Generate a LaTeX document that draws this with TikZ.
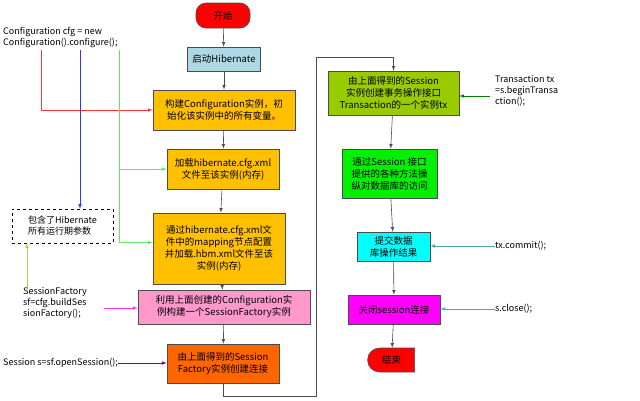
\documentclass[tikz,border=0pt]{standalone}
\usepackage{fontspec}
\usetikzlibrary{shapes.misc}
\setmainfont{Noto Sans CJK SC}
\definecolor{lightblue}{RGB}{173,216,230}
\definecolor{gold}{RGB}{255,192,0}
\definecolor{pinkc}{RGB}{255,153,204}
\definecolor{orangec}{RGB}{255,102,0}
\definecolor{olivec}{RGB}{153,204,0}
\definecolor{limec}{RGB}{0,240,0}
\definecolor{ygreen}{RGB}{170,210,80}
\definecolor{cyanc}{RGB}{0,255,255}
\definecolor{magc}{RGB}{255,0,255}
\definecolor{redc}{RGB}{255,0,0}
\definecolor{greenl}{RGB}{100,230,100}
\begin{document}
\begin{tikzpicture}[x=1pt,y=-1pt,
 box/.style={draw=black!70,line width=0.6pt,align=center,inner sep=1pt,font=\fontsize{9.5}{12}\selectfont},
 lbl/.style={align=left,inner sep=0pt,anchor=north west,font=\fontsize{9}{11}\selectfont},
 ar/.style={->,>=latex,line width=0.6pt},
 fl/.style={ar,black!70}]
\useasboundingbox[fill=white] (0,0) rectangle (640,400);
\node[box,fill=redc,rounded corners=10pt,minimum width=54pt,minimum height=25pt] (start) at (223,15.5) {开始};
\node[box,fill=lightblue,minimum width=73pt,minimum height=24pt] (b1) at (224,59) {启动Hibernate};
\node[box,fill=gold,minimum width=142pt,minimum height=40pt] (b2) at (224,110) {构建Configuration实例，初\\始化该实例中的所有变量。};
\node[box,fill=gold,minimum width=112pt,minimum height=40pt] (b3) at (223,169) {加载hibernate.cfg.xml\\文件至该实例(内存)};
\node[box,fill=gold,minimum width=132pt,minimum height=71pt] (b4) at (219,248.5) {通过hibernate.cfg.xml文\\件中的mapping节点配置\\并加载.hbm.xml文件至该\\实例(内存)};
\node[box,fill=pinkc,minimum width=172pt,minimum height=34pt] (b5) at (224,307) {利用上面创建的Configuration实\\例构建一个SessionFactory实例};
\node[box,fill=orangec,minimum width=112pt,minimum height=39pt] (b6) at (223,363.5) {由上面得到的Session\\Factory实例创建连接};
\node[box,fill=olivec,minimum width=131pt,minimum height=44pt] (r1) at (393.5,93) {由上面得到的Session\\实例创建事务操作接口\\Transaction的一个实例tx};
\node[box,fill=limec,minimum width=95pt,minimum height=49pt] (r2) at (389.5,173.5) {通过Session 接口\\提供的各种方法操\\纵对数据库的访问};
\node[box,fill=cyanc,minimum width=73pt,minimum height=29pt] (r3) at (393.5,246.5) {提交数据\\库操作结果};
\node[box,fill=magc,minimum width=92pt,minimum height=29pt] (r4) at (394,309.5) {关闭session连接};
\node[box,fill=redc,rounded rectangle,rounded rectangle right arc=none,minimum width=49pt,minimum height=24pt] (end) at (391.5,360) {结束};
\draw[fl] (start) -- (b1);
\draw[fl] (b1) -- (b2);
\draw[fl] (b2) -- (b3);
\draw[fl] (b3) -- (b4);
\draw[fl] (b4) -- (b5);
\draw[fl] (b5) -- (b6);
\draw[fl] (b6.south) -- (223,396) -- (316,396) -- (316,57) -- (393.5,57) -- (r1.north);
\draw[fl] (r1) -- (r2);
\draw[fl] (r2) -- (r3);
\draw[fl] (r3) -- (r4);
\draw[fl] (r4) -- (end);
% left
\node[lbl] (t1) at (3,27) {Configuration cfg = new\\Configuration().configure();};
\node[draw,dashed,align=left,inner sep=2pt,minimum width=101pt,minimum height=34pt,font=\fontsize{9}{11}\selectfont] (dash) at (62.5,226) {包含了Hibernate\\所有运行期参数};
\coordinate (rc) at (41,50);
\coordinate (bc) at (80,50);
\coordinate (gc) at (119,50);
\draw[ar,red!80] (rc) -- (41,110) -- (b2.west);
\draw[ar,blue!80] (bc) -- (dash.north -| bc);
\draw[greenl] (gc) -- (119,242.5);
\draw[ar,greenl] (119,169) -- (b3.west);
\draw[ar,greenl] (119,242.5) -- (b4.west |- 0,242.5);
\node[lbl] (t2) at (23,287) {SessionFactory\\sf=cfg.buildSes\\sionFactory();};
\coordinate (yc) at (27,290);
\draw[ar,ygreen] (yc) -- (dash.south -| yc);
\draw[ar,magc!80] (104,308) -- (b5.west |- 0,308);
\node[lbl,anchor=west] (t3) at (3,363) {Session s=sf.openSession();};
\draw[ar,violet] (t3.east) -- (b6.west |- t3.east);
% right
\node[lbl] (t4) at (495,75) {Transaction tx\\=s.beginTransa\\ction();};
\draw[ar,green!50!black] (490,96) -- (r1.east |- 0,96);
\node[lbl,anchor=west] (t5) at (495,246) {tx.commit();};
\draw[ar,teal!70] (t5.west) -- (r3.east |- t5.west);
\node[lbl,anchor=west] (t6) at (495,309) {s.close();};
\draw[ar,cyanc!80!black] (t6.west) -- (r4.east |- t6.west);
\end{tikzpicture}
\end{document}
